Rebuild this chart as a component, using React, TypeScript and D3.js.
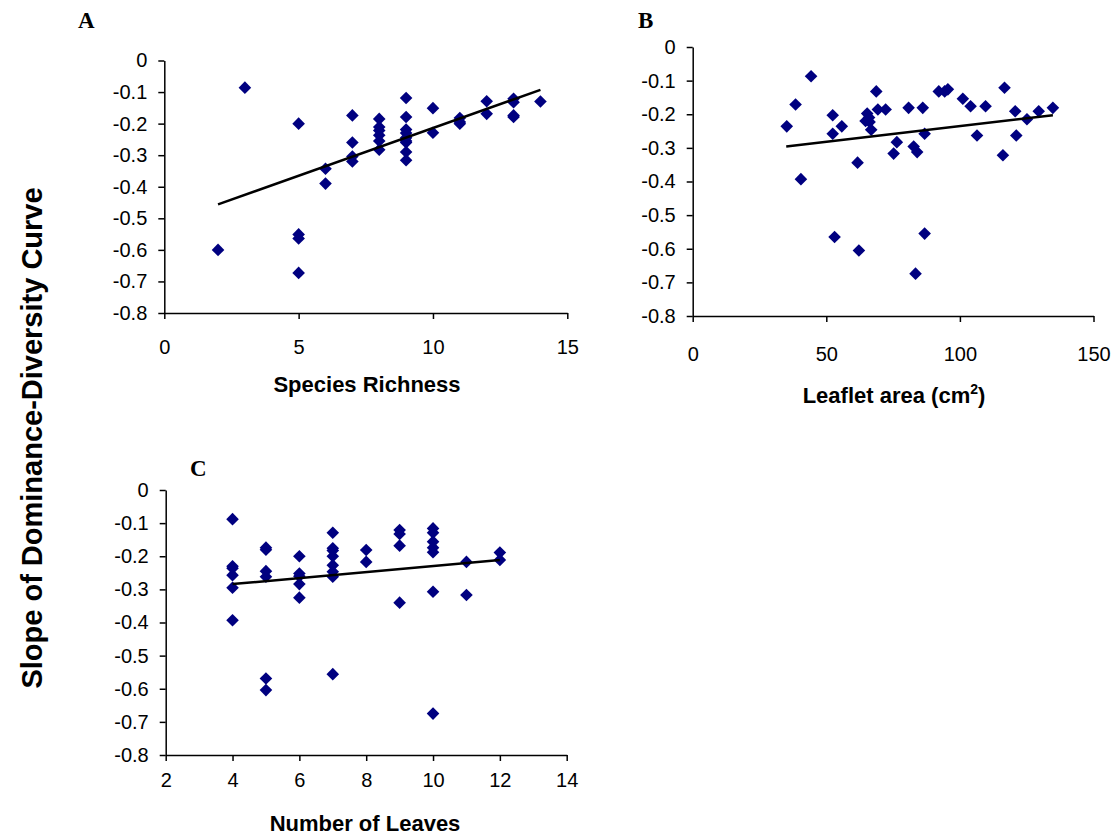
import React, { useEffect, useRef } from "react";
import * as d3 from "d3";

// Panel A: species richness vs slope
const richness = [2, 3, 5, 5, 5, 5, 6, 6, 7, 7, 7, 7, 8, 8, 8, 8, 8, 8, 9, 9, 9, 9, 9, 9, 9, 9, 9, 10, 10, 11, 11, 11, 12, 12, 13, 13, 13, 13, 14];
const slopeA = [-0.6, -0.086, -0.2, -0.551, -0.564, -0.673, -0.343, -0.39, -0.174, -0.26, -0.304, -0.32, -0.185, -0.211, -0.222, -0.237, -0.255, -0.283, -0.119, -0.179, -0.219, -0.23, -0.245, -0.255, -0.26, -0.29, -0.316, -0.151, -0.229, -0.182, -0.195, -0.2, -0.129, -0.169, -0.121, -0.132, -0.174, -0.179, -0.13];
const trendAx = [2, 14];
const trendAy = [-0.456, -0.093];

// Panel B: leaflet area vs slope
const leafletArea = [35.2, 38.5, 44.3, 40.5, 52.4, 52.4, 55.8, 53.1, 61.7, 62.2, 65.3, 64.7, 66.2, 66.8, 66, 68.7, 69.3, 72.2, 76.4, 75.2, 80.8, 82.7, 84, 83.4, 86.1, 86.8, 86.8, 92.1, 94.3, 95.5, 101.1, 104, 109.6, 106.4, 116.7, 116.1, 120.7, 121.1, 125.1, 129.5, 134.8];
const slopeB = [-0.236, -0.171, -0.087, -0.393, -0.203, -0.258, -0.236, -0.565, -0.344, -0.605, -0.198, -0.22, -0.223, -0.246, -0.21, -0.132, -0.186, -0.186, -0.283, -0.317, -0.181, -0.296, -0.3125, -0.674, -0.181, -0.258, -0.555, -0.132, -0.132, -0.126, -0.154, -0.176, -0.176, -0.263, -0.121, -0.322, -0.191, -0.263, -0.215, -0.191, -0.181];
const trendBx = [35, 134.8];
const trendBy = [-0.296, -0.203];

// Panel C: number of leaves vs slope
const leaves = [4, 4, 4, 4, 4, 4, 5, 5, 5, 5, 5, 5, 6, 6, 6, 6, 6, 7, 7, 7, 7, 7, 7, 7, 7, 8, 8, 9, 9, 9, 9, 10, 10, 10, 10, 10, 10, 10, 11, 11, 12, 12];
const slopeC = [-0.088, -0.23, -0.236, -0.257, -0.295, -0.393, -0.174, -0.18, -0.245, -0.262, -0.569, -0.604, -0.2, -0.252, -0.26, -0.284, -0.325, -0.129, -0.176, -0.183, -0.2, -0.227, -0.247, -0.262, -0.556, -0.181, -0.217, -0.121, -0.133, -0.168, -0.34, -0.116, -0.129, -0.156, -0.174, -0.188, -0.307, -0.675, -0.217, -0.317, -0.189, -0.211];
const trendCx = [4, 12];
const trendCy = [-0.284, -0.211];

const yTicks = [0, -0.1, -0.2, -0.3, -0.4, -0.5, -0.6, -0.7, -0.8];

const FONT = "'Liberation Sans', Arial, sans-serif";

type Panel = {
  letter: string;
  xs: number[];
  ys: number[];
  tx: number[];
  ty: number[];
  xDomain: [number, number];
  xTicks: number[];
  left: number;
  right: number;
  top: number;
  bottom: number;
  xPad: number;
  title: string;
  titleX: number;
  titleY: number;
  letterX: number;
  letterY: number;
};

const panels: Panel[] = [
  {
    letter: "A", xs: richness, ys: slopeA, tx: trendAx, ty: trendAy,
    xDomain: [0, 15], xTicks: [0, 5, 10, 15],
    left: 164.3, right: 567.3, top: 60.5, bottom: 313,
    xPad: 21, title: "Species Richness", titleX: 367, titleY: 392,
    letterX: 78, letterY: 28,
  },
  {
    letter: "B", xs: leafletArea, ys: slopeB, tx: trendBx, ty: trendBy,
    xDomain: [0, 150], xTicks: [0, 50, 100, 150],
    left: 692.7, right: 1093.5, top: 47, bottom: 316,
    xPad: 25, title: "Leaflet area (cm", titleX: 894, titleY: 403,
    letterX: 638, letterY: 28,
  },
  {
    letter: "C", xs: leaves, ys: slopeC, tx: trendCx, ty: trendCy,
    xDomain: [2, 14], xTicks: [2, 4, 6, 8, 10, 12, 14],
    left: 165.7, right: 566.7, top: 490, bottom: 755,
    xPad: 12, title: "Number of Leaves", titleX: 365, titleY: 831,
    letterX: 190, letterY: 476,
  },
];

export default function App() {
  const ref = useRef<SVGSVGElement>(null);

  useEffect(() => {
    const svg = d3.select(ref.current);
    svg.selectAll("*").remove();

    const r = 6.3;
    const diamond = `M0,${-r}L${r},0L0,${r}L${-r},0Z`;

    panels.forEach((p) => {
      const x = d3.scaleLinear().domain(p.xDomain).range([p.left, p.right]);
      const y = d3.scaleLinear().domain([-0.8, 0]).range([p.bottom, p.top]);
      const g = svg.append("g");

      // y axis
      const ya = g
        .append("g")
        .attr("transform", `translate(${p.left},0)`)
        .call(
          d3.axisLeft(y).tickValues(yTicks).tickSize(6).tickSizeOuter(0).tickPadding(11)
            .tickFormat((d) => (+d === 0 ? "0" : (+d).toFixed(1)))
        );
      // x axis
      const xa = g
        .append("g")
        .attr("transform", `translate(0,${p.bottom})`)
        .call(d3.axisBottom(x).tickValues(p.xTicks).tickSize(6).tickSizeOuter(0).tickPadding(p.xPad));

      [ya, xa].forEach((a) => {
        a.selectAll("path, line").attr("stroke", "#000").attr("stroke-width", 1.5);
        a.selectAll("text").attr("font-family", FONT).attr("font-size", 20).attr("fill", "#000");
      });

      // points
      g.selectAll("path.pt")
        .data(p.xs.map((v, i) => [v, p.ys[i]]))
        .join("path")
        .attr("class", "pt")
        .attr("d", diamond)
        .attr("transform", (d) => `translate(${x(d[0])},${y(d[1])})`)
        .attr("fill", "#000080");

      // trend line
      g.append("line")
        .attr("x1", x(p.tx[0]))
        .attr("y1", y(p.ty[0]))
        .attr("x2", x(p.tx[1]))
        .attr("y2", y(p.ty[1]))
        .attr("stroke", "#000")
        .attr("stroke-width", 2.5);

      // x title
      const t = g
        .append("text")
        .attr("x", p.titleX)
        .attr("y", p.titleY)
        .attr("text-anchor", "middle")
        .attr("font-family", FONT)
        .attr("font-weight", "bold")
        .attr("font-size", 22)
        .text(p.title);
      if (p.letter === "B") {
        t.append("tspan").attr("font-size", 14).attr("dy", -9).text("2");
        t.append("tspan").attr("dy", 9).text(")");
      }

      // panel letter
      g.append("text")
        .attr("x", p.letterX)
        .attr("y", p.letterY)
        .attr("font-family", "'Liberation Serif', 'Times New Roman', serif")
        .attr("font-weight", "bold")
        .attr("font-size", 23)
        .text(p.letter);
    });

    // shared y title
    svg
      .append("text")
      .attr("transform", "translate(42,438) rotate(-90)")
      .attr("text-anchor", "middle")
      .attr("font-family", FONT)
      .attr("font-weight", "bold")
      .attr("font-size", 29)
      .text("Slope of Dominance-Diversity Curve");
  }, []);

  return (
    <svg
      ref={ref}
      width={1118}
      height={837}
      style={{ position: "absolute", left: 0, top: 0, background: "#fff" }}
    />
  );
}
